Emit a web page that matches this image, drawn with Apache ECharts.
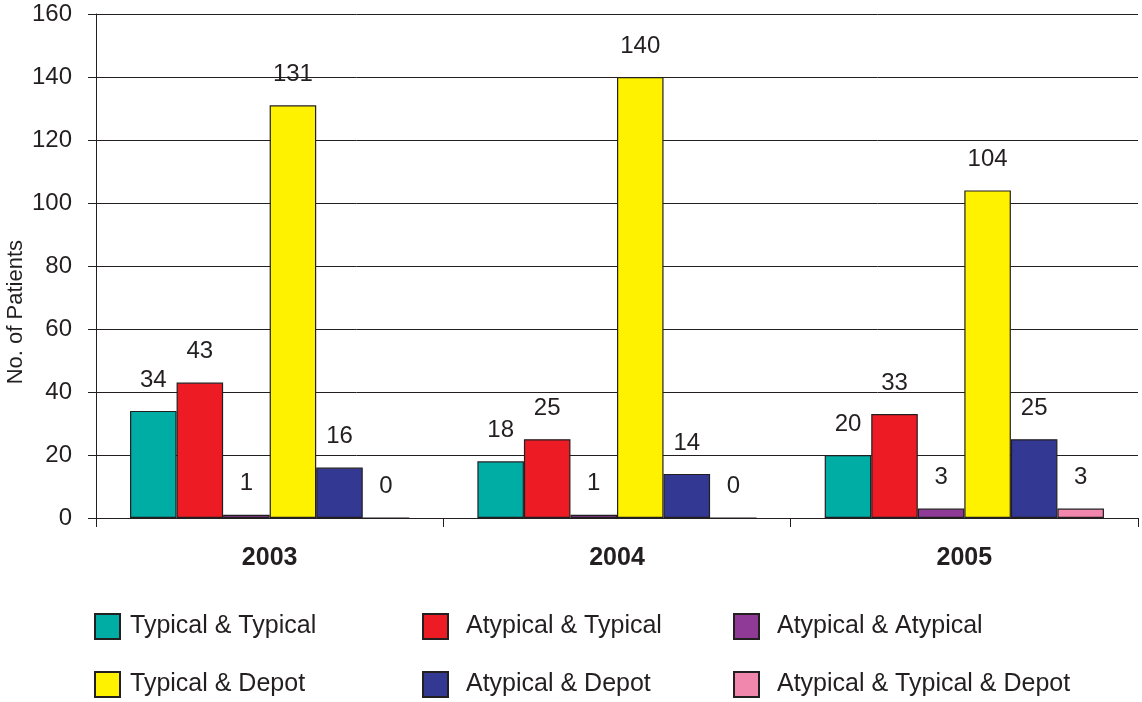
<!DOCTYPE html>
<html>
<head>
<meta charset="utf-8">
<script src="https://cdn.jsdelivr.net/npm/echarts@6/dist/echarts.min.js"></script>
<style>
  html, body { margin: 0; padding: 0; background: #fff; }
  #main { width: 1142px; height: 702px; }
</style>
</head>
<body>
<div id="main"></div>
<script>
const years = ['2003', '2004', '2005']
const yTicks = [0, 20, 40, 60, 80, 100, 120, 140, 160]

const typicalTypical = [34, 18, 20]
const atypicalTypical = [43, 25, 33]
const atypicalAtypical = [1, 1, 3]
const typicalDepot = [131, 140, 104]
const atypicalDepot = [16, 14, 25]
const atypicalTypicalDepot = [0, 0, 3]

const seriesNames = [
  'Typical & Typical',
  'Atypical & Typical',
  'Atypical & Atypical',
  'Typical & Depot',
  'Atypical & Depot',
  'Atypical & Typical & Depot'
]
const seriesData = [typicalTypical, atypicalTypical, atypicalAtypical, typicalDepot, atypicalDepot, atypicalTypicalDepot]
const colors = ['#00ADA5', '#ED1C24', '#8E3A96', '#FFF200', '#333893', '#F287AE']

const ink = '#231F20'
const font = 'Liberation Sans, Arial, sans-serif'

const chart = echarts.init(document.getElementById('main'))

// one legend per entry so the 3x2 grid lines up like the original
const legendCols = [94, 422, 733]
const legendRows = [613, 671]
const legendTextGap = [5, 13, 13]

function makeLegend(i) {
  const col = i % 3
  const row = Math.floor(i / 3)
  return {
    left: legendCols[col],
    top: legendRows[row],
    padding: 0,
    itemWidth: 25,
    itemHeight: 25,
    icon: 'rect',
    data: [seriesNames[i]],
    textStyle: { color: ink, fontSize: 25, fontFamily: font, padding: [0, 0, 0, legendTextGap[col]] },
    itemStyle: { borderColor: ink, borderWidth: 2 }
  }
}

const option = {
  animation: false,
  color: colors,
  textStyle: { fontFamily: font },
  grid: { left: 96, right: 4, top: 14, bottom: 184 },
  legend: seriesNames.map((n, i) => makeLegend(i)),
  xAxis: {
    type: 'category',
    data: years,
    axisLine: { lineStyle: { color: ink, width: 1 } },
    axisTick: { show: true, length: 9, lineStyle: { color: ink } },
    axisLabel: { color: ink, fontSize: 25, fontWeight: 'bold', margin: 28, fontFamily: font }
  },
  yAxis: {
    type: 'value',
    min: yTicks[0],
    max: yTicks[yTicks.length - 1],
    interval: 20,
    axisLine: { show: true, lineStyle: { color: ink, width: 1 } },
    axisTick: { show: true, length: 8, lineStyle: { color: ink } },
    axisLabel: { color: ink, fontSize: 24, margin: 24, fontFamily: font },
    splitLine: { lineStyle: { color: ink, width: 1 } }
  },
  graphic: [{
    type: 'text',
    left: 5,
    top: 240,
    rotation: Math.PI / 2,
    style: { text: 'No. of Patients', fill: ink, fontSize: 22, fontFamily: font }
  }],
  series: seriesNames.map((name, i) => ({
    name: name,
    type: 'bar',
    data: seriesData[i],
    barGap: '0%',
    barCategoryGap: '19.6%',
    itemStyle: { borderColor: ink, borderWidth: 1.2 },
    label: {
      show: true,
      position: 'top',
      distance: 19,
      color: ink,
      fontSize: 24,
      fontFamily: font
    }
  }))
}

option && chart.setOption(option)
</script>
</body>
</html>
